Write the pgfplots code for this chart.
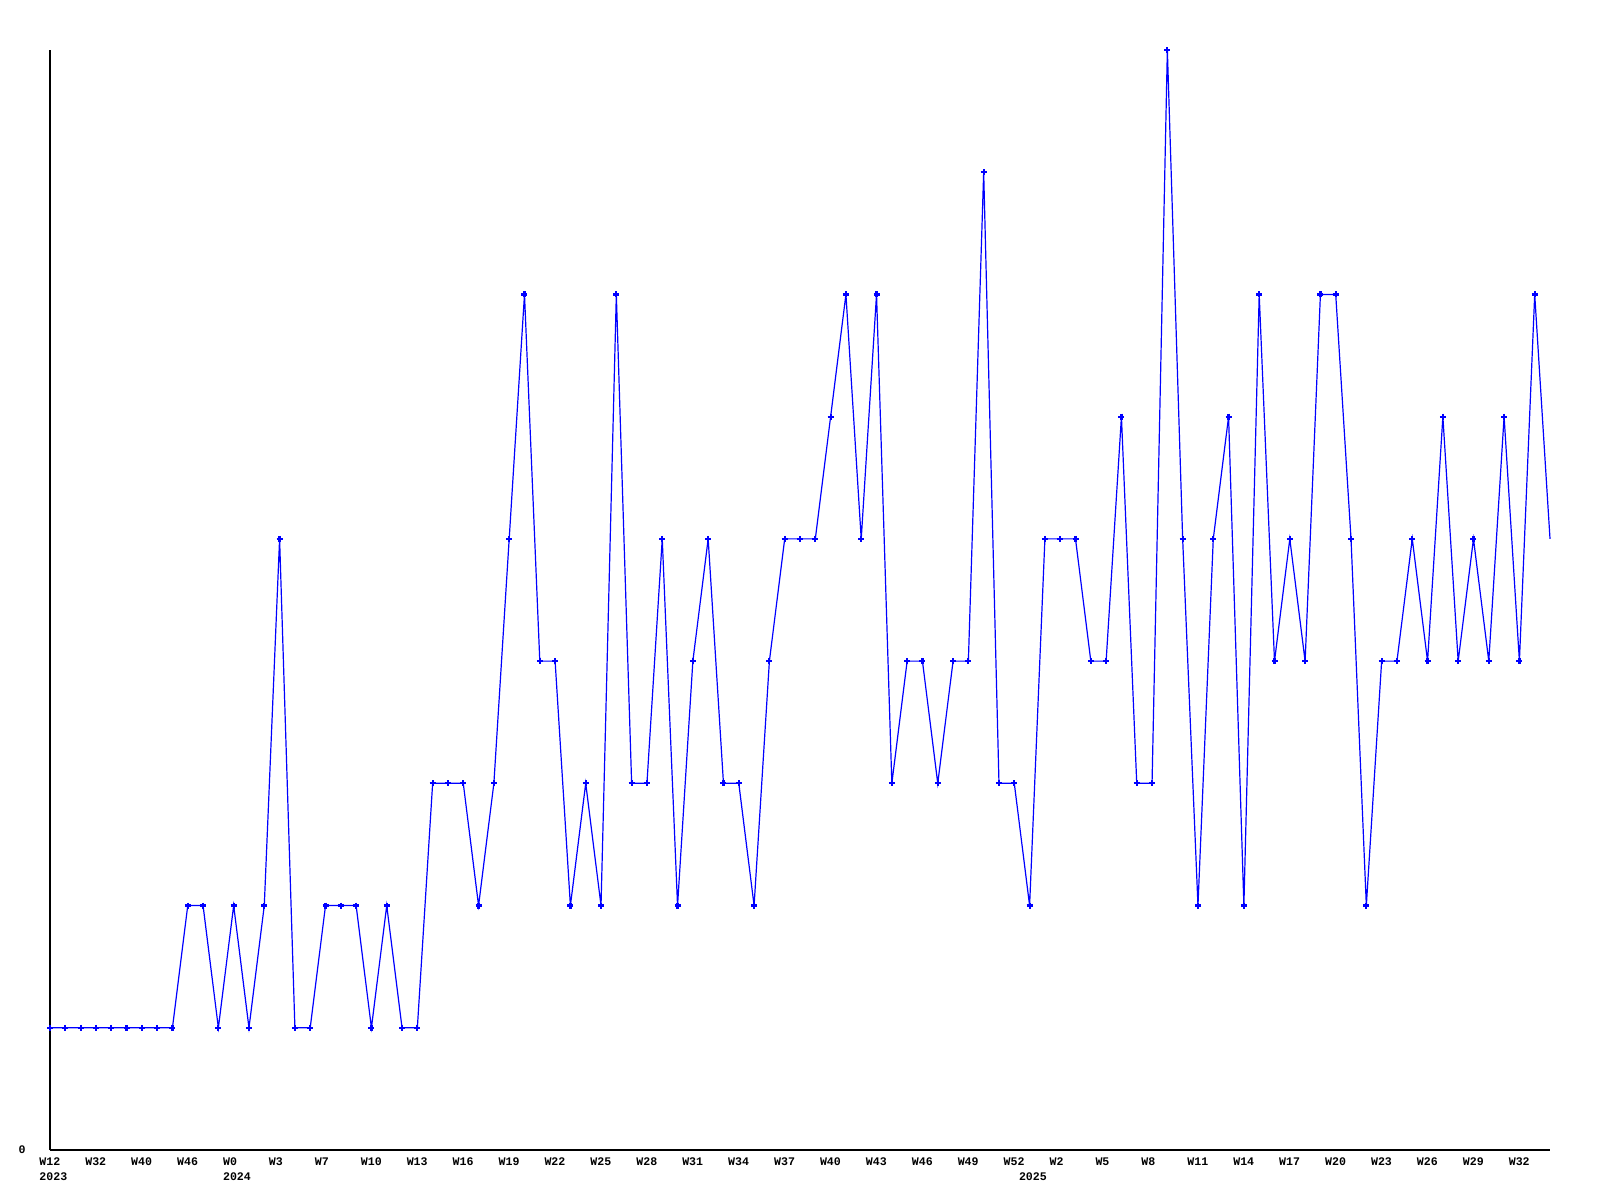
\documentclass[border=0pt]{standalone}
\usepackage{fontspec}
\setmonofont{Liberation Mono}
\usepackage{pgfplots}
\usepackage{pgfplotstable}
\pgfplotsset{compat=1.18}
\definecolor{lineblue}{RGB}{0,0,255}
\pgfplotstableread{
x y
0 1
1 1
2 1
3 1
4 1
5 1
6 1
7 1
8 1
9 2
10 2
11 1
12 2
13 1
14 2
15 5
16 1
17 1
18 2
19 2
20 2
21 1
22 2
23 1
24 1
25 3
26 3
27 3
28 2
29 3
30 5
31 7
32 4
33 4
34 2
35 3
36 2
37 7
38 3
39 3
40 5
41 2
42 4
43 5
44 3
45 3
46 2
47 4
48 5
49 5
50 5
51 6
52 7
53 5
54 7
55 3
56 4
57 4
58 3
59 4
60 4
61 8
62 3
63 3
64 2
65 5
66 5
67 5
68 4
69 4
70 6
71 3
72 3
73 9
74 5
75 2
76 5
77 6
78 2
79 7
80 4
81 5
82 4
83 7
84 7
85 5
86 2
87 4
88 4
89 5
90 4
91 6
92 4
93 5
94 4
95 6
96 4
97 7
98 5
}\datatable
\begin{document}
\begin{tikzpicture}
\path[use as bounding box] (0,0) rectangle (800pt,600pt);
\begin{axis}[
  at={(25pt,25pt)}, anchor=south west,
  scale only axis, width=750pt, height=550pt,
  xmin=0, xmax=98, ymin=0, ymax=9,
  clip=false,
  axis x line*=bottom, axis y line*=left,
  axis line style={-, black, line width=1pt},
  xtick={0,3,...,96},
  xticklabels={W12,W32,W40,W46,W0,W3,W7,W10,W13,W16,W19,W22,W25,W28,W31,W34,W37,W40,W43,W46,W49,W52,W2,W5,W8,W11,W14,W17,W20,W23,W26,W29,W32},
  ytick={0}, yticklabels={0},
  major tick length=0pt,
  tick style={draw=none},
  xticklabel style={anchor=west, inner sep=0pt, xshift=-5.5pt, yshift=-6pt},
  yticklabel style={anchor=east, inner sep=0pt, xshift=-12pt},
  ticklabel style={font=\ttfamily\bfseries\fontsize{5.8}{6}\selectfont},
]
\addplot[color=lineblue, line width=0.6pt, no marks] table[x=x,y=y] {\datatable};
\addplot[color=lineblue, only marks, mark=+, mark size=1.5pt, mark options={line width=1.1pt}, skip coords between index={98}{99}] table[x=x,y=y] {\datatable};
\begin{scope}[every node/.style={anchor=west, inner sep=0pt, xshift=-5.5pt, yshift=-13.5pt, font=\ttfamily\bfseries\fontsize{5.8}{6}\selectfont}]
\node at (axis cs:0,0) {2023};
\node at (axis cs:12,0) {2024};
\node at (axis cs:64,0) {2025};
\end{scope}
\end{axis}
\end{tikzpicture}
\end{document}
